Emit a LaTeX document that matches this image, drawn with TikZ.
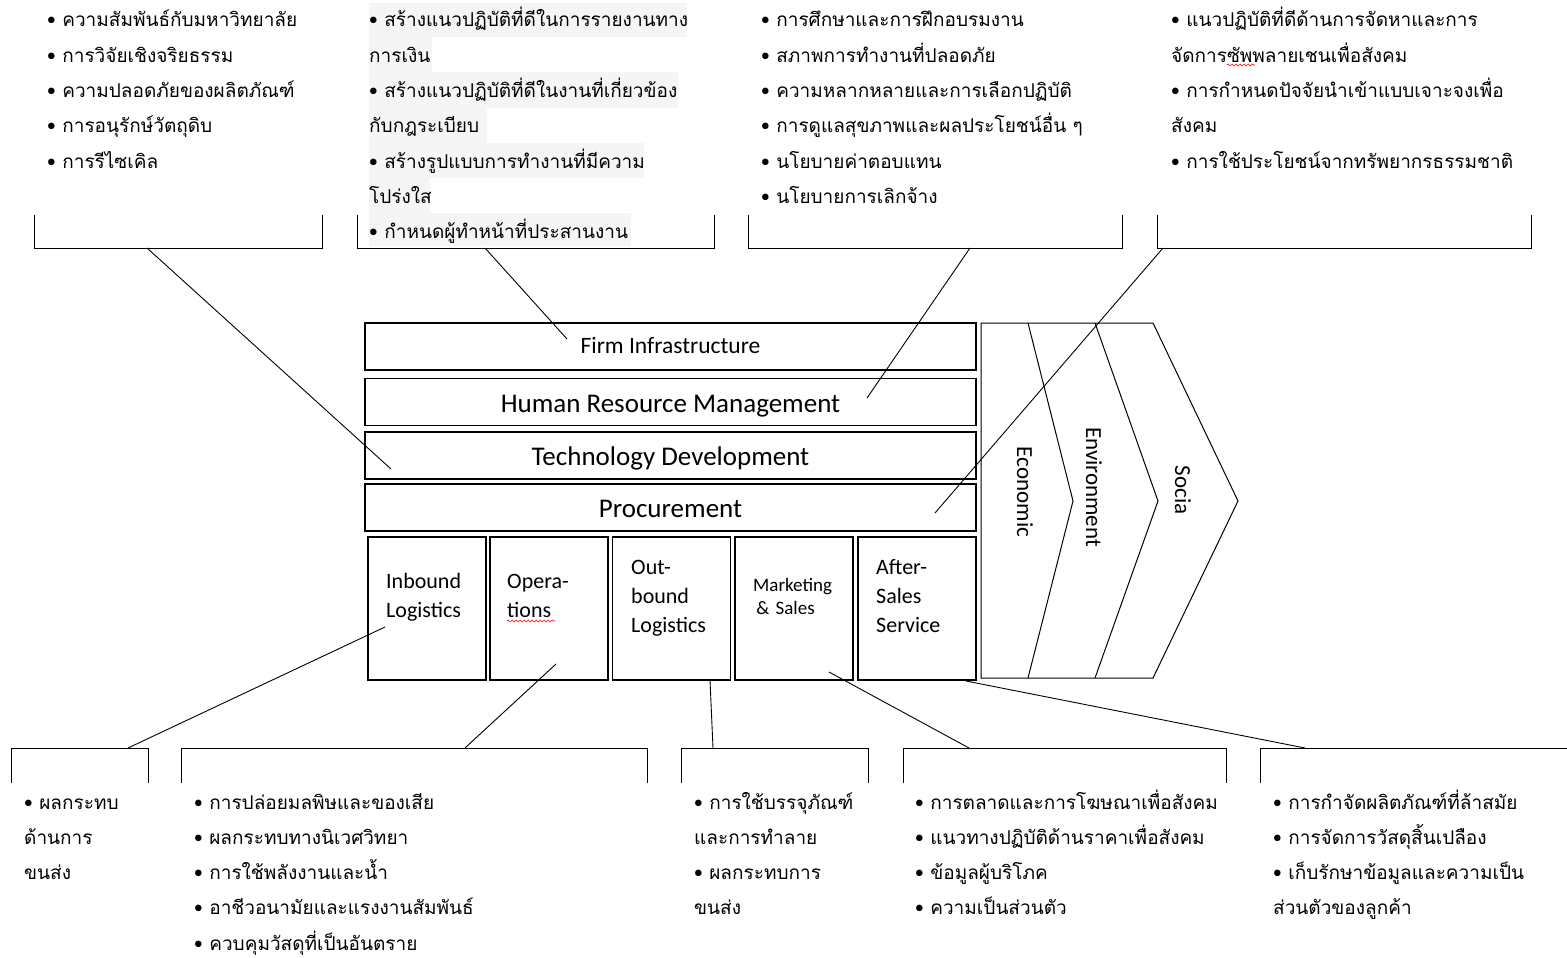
\documentclass[tikz,border=0pt]{standalone}
\usepackage{fontspec}
\setmainfont{Carlito}
\newfontfamily\thaifont[Script=Thai]{Loma}
\usetikzlibrary{positioning,decorations.pathmorphing}

\begin{document}
\begin{tikzpicture}[
    x=1pt, y=-1pt,
    every node/.style={inner sep=0pt},
    support/.style={draw, line width=1.3pt, minimum width=611pt, minimum height=47pt, text height=22pt, text depth=2pt, font=\fontsize{27}{30}\selectfont},
    primary/.style={draw, line width=1.3pt, minimum width=118pt, minimum height=143pt},
    ptext/.style={anchor=base west, align=left, text width=105pt, font=\fontsize{22}{29}\selectfont},
    thlist/.style={anchor=base west, align=left, text width=430pt, font=\thaifont\fontsize{19}{35.3}\selectfont},
    hl/.style={fill=black!4},
    brk/.style={line width=0.9pt},
    link/.style={line width=0.9pt},
    squiggle/.style={red, line width=0.6pt, decorate, decoration={snake, amplitude=1pt, segment length=4pt}}
]
\useasboundingbox (0,0) rectangle (1567,958);

% support activities
\node[support, text height=16pt, font=\fontsize{23.5}{27}\selectfont] (firm) at (670.5,346.5) {Firm Infrastructure};
\node[support] (hrm) at (670.5,402) {Human Resource Management};
\node[support] (tech) at (670.5,455.5) {Technology Development};
\node[support] (proc) at (670.5,507.5) {Procurement};

% primary activities
\node[primary] (inb) at (427,608.5) {};
\node[primary] (ops) at (549,608.5) {};
\node[primary] (outb) at (671.5,608.5) {};
\node[primary] (mkt) at (794,608.5) {};
\node[primary] (aft) at (917,608.5) {};
\node[ptext] (inbt) at (386,588) {Inbound\\Logistics};
\node[ptext] (opst) at (507,588) {Opera-\\tions};
\node[ptext] (outbt) at (631,574) {Out-\\bound\\Logistics};
\node[ptext, font=\fontsize{19}{23}\selectfont] (mktt) at (753,591) {Marketing\\ \,\&~Sales};
\node[ptext] (aftt) at (876,574) {After-\\Sales\\Service};
\draw[squiggle] (507,621) -- (555,621);

% margin chevrons
\draw[line width=1pt] (981,323) -- (1153,323) -- (1238,501) -- (1153,678) -- (981,678) -- cycle;
\draw[line width=1pt] (1028,323) -- (1073,501) -- (1028,678);
\draw[line width=1pt] (1095,323) -- (1158,501) -- (1095,678);
\node[rotate=-90, font=\fontsize{23}{27}\selectfont] (eco) at (1025,492) {Economic};
\node[rotate=-90, font=\fontsize{23}{27}\selectfont] (env) at (1094,487) {Environment};
\node[rotate=-90, font=\fontsize{23}{27}\selectfont] (soc) at (1183,490) {Socia};

% shaded lines behind the firm list
\fill[hl] (369,3) rectangle (687,37);
\fill[hl] (369,37) rectangle (432,72);
\fill[hl] (369,72) rectangle (678,108);
\fill[hl] (369,108) rectangle (487,143);
\fill[hl] (369,143) rectangle (644,178);
\fill[hl] (369,178) rectangle (430,213);
\fill[hl] (369,213) rectangle (631,246);

% top lists
\node[thlist] (techlist) at (47,27) {• ความสัมพันธ์กับมหาวิทยาลัย\\• การวิจัยเชิงจริยธรรม\\• ความปลอดภัยของผลิตภัณฑ์\\• การอนุรักษ์วัตถุดิบ\\• การรีไซเคิล};
\node[thlist] (firmlist) at (369,27) {• สร้างแนวปฏิบัติที่ดีในการรายงานทาง\\การเงิน\\• สร้างแนวปฏิบัติที่ดีในงานที่เกี่ยวข้อง\\กับกฎระเบียบ\\• สร้างรูปแบบการทำงานที่มีความ\\โปร่งใส\\• กำหนดผู้ทำหน้าที่ประสานงาน};
\node[thlist] (hrmlist) at (761,27) {• การศึกษาและการฝึกอบรมงาน\\• สภาพการทำงานที่ปลอดภัย\\• ความหลากหลายและการเลือกปฏิบัติ\\• การดูแลสุขภาพและผลประโยชน์อื่น ๆ\\• นโยบายค่าตอบแทน\\• นโยบายการเลิกจ้าง};
\node[thlist] (proclist) at (1171,27) {• แนวปฏิบัติที่ดีด้านการจัดหาและการ\\จัดการซัพพลายเชนเพื่อสังคม\\• การกำหนดปัจจัยนำเข้าแบบเจาะจงเพื่อ\\สังคม\\• การใช้ประโยชน์จากทรัพยากรธรรมชาติ};
\draw[squiggle] (1227,65) -- (1255,65);

% top brackets
\draw[brk] (34,215) |- (322,248) -- (322,215);
\draw[brk] (357,215) |- (714,248) -- (714,215);
\draw[brk] (748,215) |- (1122,248) -- (1122,215);
\draw[brk] (1157,215) |- (1531,248) -- (1531,215);
\coordinate (tb1) at (147,248);
\coordinate (tb2) at (485,248);
\coordinate (tb3) at (970,248);
\coordinate (tb4) at (1163,248);
\coordinate (techP) at (391,469);
\coordinate (firmP) at (567,339);
\coordinate (hrmP) at (867,398);
\coordinate (procP) at (935,513);
\draw[link] (tb1) -- (techP);
\draw[link] (tb2) -- (firmP);
\draw[link] (tb3) -- (hrmP);
\draw[link] (tb4) -- (procP);

% bottom brackets
\draw[brk] (11,783) |- (148,748) -- (148,783);
\draw[brk] (181,783) |- (647,748) -- (647,783);
\draw[brk] (681,783) |- (868,748) -- (868,783);
\draw[brk] (903,783) |- (1226,748) -- (1226,783);
\draw[brk] (1260,783) |- (1567,748);
\coordinate (bb1) at (128,748);
\coordinate (bb2) at (465,748);
\coordinate (bb3) at (713,748);
\coordinate (bb4) at (969,748);
\coordinate (bb5) at (1305,748);
\coordinate (inbP) at (385,627);
\coordinate (opsP) at (556,664);
\coordinate (outbP) at (710,680);
\coordinate (mktP) at (829,672);
\coordinate (aftP) at (966,681);
\draw[link] (inbP) -- (bb1);
\draw[link] (opsP) -- (bb2);
\draw[link] (outbP) -- (bb3);
\draw[link] (mktP) -- (bb4);
\draw[link] (aftP) -- (bb5);

% bottom lists
\node[thlist] (inblist) at (24,809) {• ผลกระทบ\\ด้านการ\\ขนส่ง};
\node[thlist] (opslist) at (194,809) {• การปล่อยมลพิษและของเสีย\\• ผลกระทบทางนิเวศวิทยา\\• การใช้พลังงานและน้ำ\\• อาชีวอนามัยและแรงงานสัมพันธ์\\• ควบคุมวัสดุที่เป็นอันตราย};
\node[thlist] (outblist) at (694,809) {• การใช้บรรจุภัณฑ์\\และการทำลาย\\• ผลกระทบการ\\ขนส่ง};
\node[thlist] (mktlist) at (915,809) {• การตลาดและการโฆษณาเพื่อสังคม\\• แนวทางปฏิบัติด้านราคาเพื่อสังคม\\• ข้อมูลผู้บริโภค\\• ความเป็นส่วนตัว};
\node[thlist] (aftlist) at (1273,809) {• การกำจัดผลิตภัณฑ์ที่ล้าสมัย\\• การจัดการวัสดุสิ้นเปลือง\\• เก็บรักษาข้อมูลและความเป็น\\ส่วนตัวของลูกค้า};
\end{tikzpicture}
\end{document}
